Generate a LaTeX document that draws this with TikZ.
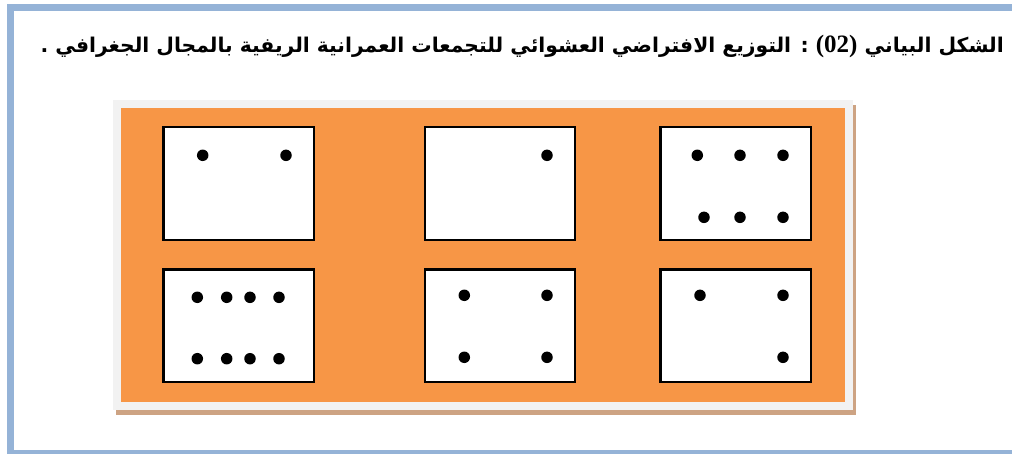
\documentclass[tikz,border=0pt]{standalone}
\usepackage{fontspec}
\TeXXeTstate=1
\newfontfamily\arabicfont[Script=Arabic]{DejaVu Sans}
\newfontfamily\numfont{Liberation Serif}
\definecolor{frameblue}{HTML}{95B3D7}
\definecolor{panelorange}{HTML}{F79646}
\definecolor{panelgray}{HTML}{F2F2F2}
\definecolor{paneltan}{HTML}{CDA383}
\tikzset{
  cell/.style={draw=black, fill=white, line width=2.3pt, minimum width=150.5pt, minimum height=112.5pt, inner sep=0pt},
  dot/.style={circle, fill=black, minimum size=11.5pt, inner sep=0pt},
}
\begin{document}
\begin{tikzpicture}[x=1pt,y=-1pt]
\useasboundingbox (0,0) rectangle (1012,453);
\fill[white] (0,0) rectangle (1012,453);
% outer frame
\draw[frameblue, line width=6.5pt] (1020,7.5) -- (10.7,7.5) -- (10.7,453.5) -- (1020,453.5);
% title
\node[anchor=base east, inner sep=0pt, font=\arabicfont\bfseries\fontsize{20.3}{24}\selectfont] (title) at (1004,52)
  {\beginR الشكل البياني \beginL{\numfont\bfseries\fontsize{25}{25}\selectfont (02)}\endL{} : التوزيع الافتراضي العشوائي للتجمعات العمرانية الريفية بالمجال الجغرافي .\endR};
% panel
\fill[paneltan] (116,105) rectangle (856,415);
\fill[panelgray] (113,100) rectangle (853,410);
\fill[panelorange] (121,108) rectangle (845,402);
% cells
\node[cell] (c11) at (238.7,183.4) {};
\node[cell] (c12) at (500,183.4) {};
\node[cell] (c13) at (735.8,183.4) {};
\node[cell] (c21) at (238.7,325.8) {};
\node[cell] (c22) at (500,325.8) {};
\node[cell] (c23) at (735.8,325.8) {};
% dots c11
\node[dot] (d1a) at (202.7,155.3) {};
\node[dot] (d1b) at (286,155.3) {};
% c12
\node[dot] (d2a) at (547,155.3) {};
% c13
\node[dot] (d3a) at (697.3,155.3) {};
\node[dot] (d3b) at (740,155.3) {};
\node[dot] (d3c) at (783,155.3) {};
\node[dot] (d3d) at (704,217.3) {};
\node[dot] (d3e) at (740,217.3) {};
\node[dot] (d3f) at (783,217.3) {};
% c21
\foreach \xx [count=\i] in {197.3,226.7,250,279}{
  \node[dot] (d4t\i) at (\xx,297.3) {};
  \node[dot] (d4b\i) at (\xx,358.7) {};
}
% c22
\node[dot] (d5a) at (464.3,295.3) {};
\node[dot] (d5b) at (547,295.3) {};
\node[dot] (d5c) at (464.3,357.3) {};
\node[dot] (d5d) at (547,357.3) {};
% c23
\node[dot] (d6a) at (700,295.3) {};
\node[dot] (d6b) at (783,295.3) {};
\node[dot] (d6c) at (783,357.3) {};
\end{tikzpicture}
\end{document}
